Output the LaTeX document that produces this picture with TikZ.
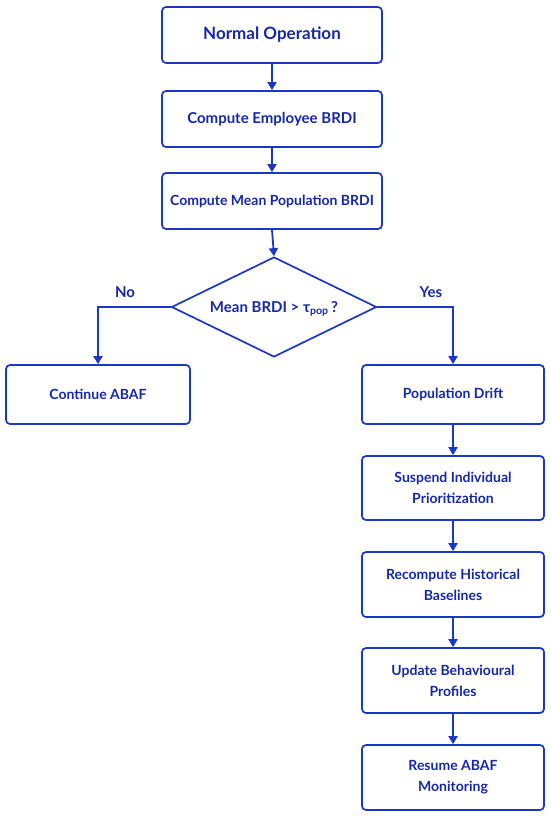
\documentclass[tikz,border=0pt]{standalone}
\usepackage{fontspec}
\setmainfont{Lato}
\usetikzlibrary{shapes.geometric,arrows.meta}
\definecolor{lineblue}{RGB}{26,56,196}
\definecolor{textblue}{RGB}{22,40,170}
\tikzset{
  box/.style={draw=lineblue, line width=1.7pt, rounded corners=4pt, fill=white,
    align=center, text=textblue, font=\bfseries, inner sep=2pt},
  conn/.style={draw=lineblue, line width=1.8pt, -{Triangle[length=8pt,width=9pt]}},
  lbl/.style={text=textblue, font=\bfseries\fontsize{15}{18}\selectfont}
}
\begin{document}
\begin{tikzpicture}[x=1pt,y=-1pt]
\path[use as bounding box, fill=white] (0,0) rectangle (550,816);
\node[box, minimum width=220pt, minimum height=56pt, font=\bfseries\fontsize{17}{20}\selectfont] (normal) at (272,35) {Normal Operation};
\node[box, minimum width=220pt, minimum height=56pt, font=\bfseries\fontsize{15}{18}\selectfont] (emp) at (272,119) {Compute Employee BRDI};
\node[box, minimum width=220pt, minimum height=56pt, font=\bfseries\fontsize{14}{17}\selectfont] (mean) at (272,201) {Compute Mean Population BRDI};
\node[draw=lineblue, line width=1.7pt, shape=diamond, minimum width=205pt, minimum height=100pt, inner sep=0pt] (dec) at (274,307) {};
\node[lbl] (dectext) at (274,309) {Mean BRDI > τ\textsubscript{pop}\,?};
\node[box, minimum width=184pt, minimum height=59pt, font=\bfseries\fontsize{14}{17}\selectfont] (cont) at (98,394.5) {Continue ABAF};
\node[box, minimum width=182pt, minimum height=59pt, font=\bfseries\fontsize{14}{17}\selectfont] (pop) at (453,394.5) {Population Drift};
\node[box, minimum width=182pt, minimum height=64pt, font=\bfseries\fontsize{14}{21}\selectfont] (susp) at (453,488) {Suspend Individual\\Prioritization};
\node[box, minimum width=182pt, minimum height=65pt, font=\bfseries\fontsize{14}{21}\selectfont] (recomp) at (453,584.5) {Recompute Historical\\Baselines};
\node[box, minimum width=182pt, minimum height=65pt, font=\bfseries\fontsize{14}{21}\selectfont] (upd) at (453,680.5) {Update Behavioural\\Profiles};
\node[box, minimum width=182pt, minimum height=65pt, font=\bfseries\fontsize{14}{21}\selectfont] (res) at (453,777.5) {Resume ABAF\\Monitoring};
\node[lbl] (no) at (125,292) {No};
\node[lbl] (yes) at (431,292) {Yes};
\draw[conn] (normal) -- (emp);
\draw[conn] (emp) -- (mean);
\draw[conn] (mean.south) -- (dec.north);
\draw[conn] (dec.west) -| (cont.north);
\draw[conn] (dec.east) -| (pop.north);
\draw[conn] (pop) -- (susp);
\draw[conn] (susp) -- (recomp);
\draw[conn] (recomp) -- (upd);
\draw[conn] (upd) -- (res);
\end{tikzpicture}
\end{document}
